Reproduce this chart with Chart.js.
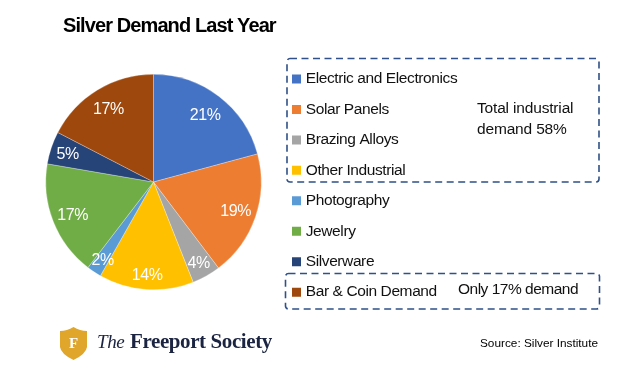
<!DOCTYPE html>
<html><head><meta charset="utf-8">
<style>html,body{margin:0;padding:0;background:#fff}canvas{display:block}</style>
<script src="https://cdn.jsdelivr.net/npm/chart.js@4/dist/chart.umd.min.js"></script>
</head><body><canvas id="c" width="624" height="382"></canvas>
<script>
const categories = ["Electric and Electronics","Solar Panels","Brazing Alloys","Other Industrial","Photography","Jewelry","Silverware","Bar & Coin Demand"];
const shares = [20.8,18.9,4.3,14.2,2.2,17.3,4.9,17.4];
const sliceColors = ["#4472C4","#ED7D31","#A5A5A5","#FFC000","#5B9BD5","#70AD47","#264478","#9E480E"];
const sliceLabels = ["21%","19%","4%","14%","2%","17%","5%","17%"];
const labelRadiusFractions = [.79,.805,.855,.86,.855,.805,.84,.805];
const FONT = '"Liberation Sans", Arial, sans-serif';

function withSpacing(box,ctx,spacing){
  if(box._spaced) return;
  box._spaced=true;
  const draw=box.draw;
  box.draw=function(a){ctx.letterSpacing=spacing;draw.call(box,a);ctx.letterSpacing='0px';};
}
const placement = {
  id:'placement',
  afterLayout(chart){
    chart.chartArea = {left:45.5,right:261.5,top:74,bottom:290,width:216,height:216};
    const l = chart.legend; const w=l.width,h=l.height;
    l.left=280.05; l.right=l.left+w; l.top=56.3; l.bottom=l.top+h;
    const t = chart.titleBlock; const tw=t.width;
    t.left=63; t.right=63+tw; t.top=10;t.bottom=10+t.height;
    withSpacing(l,chart.ctx,'-0.4px');
    withSpacing(t,chart.ctx,'-0.9px');
  }
};
const sliceText = {
  id:'sliceText',
  afterDatasetsDraw(chart){
    const {ctx}=chart; const arcs=chart.getDatasetMeta(0).data;
    ctx.save();ctx.font='16px '+FONT;ctx.letterSpacing='-0.4px';ctx.fillStyle='#fff';ctx.textAlign='center';ctx.textBaseline='middle';
    arcs.forEach((a,i)=>{
      const mid=(a.startAngle+a.endAngle)/2, r=a.outerRadius*labelRadiusFractions[i];
      ctx.fillText(sliceLabels[i],a.x+Math.cos(mid)*r,a.y+Math.sin(mid)*r+1.5);
    });
    ctx.restore();
  }
};
function dashed(ctx,x,y,w,h){
  ctx.beginPath();ctx.roundRect(x,y,w,h,3);ctx.stroke();
}
const extras = {
  id:'extras',
  afterDraw(chart){
    const {ctx}=chart;
    ctx.save();
    ctx.strokeStyle='#2F5088';ctx.lineWidth=1.6;ctx.setLineDash([7,4.5]);
    dashed(ctx,287,58.5,312,123.5);
    dashed(ctx,285.5,273.5,314,35.5);
    ctx.setLineDash([]);
    ctx.fillStyle='#111';ctx.textBaseline='middle';ctx.textAlign='left';
    ctx.font='15.5px '+FONT;ctx.letterSpacing='-0.17px';
    ctx.fillText('Total industrial',477,109);
    ctx.fillText('demand 58%',477,130);
    ctx.letterSpacing='-0.5px';
    ctx.fillText('Only 17% demand',458,290);
    ctx.letterSpacing='0px';
    ctx.font='11.8px '+FONT;ctx.fillStyle='#000';
    ctx.fillText('Source: Silver Institute',480,344);
    // logo shield
    ctx.fillStyle='#E0A52B';
    ctx.beginPath();
    ctx.moveTo(73.5,327);
    ctx.quadraticCurveTo(80,331,87,331);
    ctx.lineTo(87,347);
    ctx.quadraticCurveTo(86,354,73.5,360);
    ctx.quadraticCurveTo(61,354,60,347);
    ctx.lineTo(60,331);
    ctx.quadraticCurveTo(67,331,73.5,327);
    ctx.closePath();ctx.fill();
    ctx.fillStyle='#fff';ctx.textAlign='center';
    ctx.font='bold 15px "Liberation Serif", serif';
    ctx.fillText('F',73.5,344);
    ctx.textAlign='left';ctx.fillStyle='#1B2440';
    ctx.letterSpacing='-0.4px';
    ctx.font='italic 19px "Liberation Serif", serif';
    ctx.fillText('The',97,343);
    ctx.font='bold 21px "Liberation Serif", serif';
    ctx.fillText('Freeport Society',130,343);
    ctx.restore();
  }
};
new Chart(document.getElementById('c'),{
  type:'pie',
  data:{labels:categories,datasets:[{data:shares,backgroundColor:sliceColors,borderColor:'rgba(255,255,255,.55)',borderWidth:.5}]},
  options:{
    responsive:false,animation:false,
    plugins:{
      tooltip:{enabled:false},
      title:{display:true,text:'Silver Demand Last Year',align:'start',color:'#000',font:{family:FONT,size:20,weight:'bold'},padding:{top:4,bottom:4}},
      legend:{position:'right',align:'start',labels:{
        boxWidth:3,boxHeight:3,padding:14.95,color:'#111',font:{family:FONT,size:15.5},
        generateLabels(chart){
          return Chart.overrides.pie.plugins.legend.labels.generateLabels(chart).map(it=>({...it,strokeStyle:it.fillStyle,lineWidth:6}));
        }
      }}
    }
  },
  plugins:[placement,sliceText,extras]
});
</script></body></html>
